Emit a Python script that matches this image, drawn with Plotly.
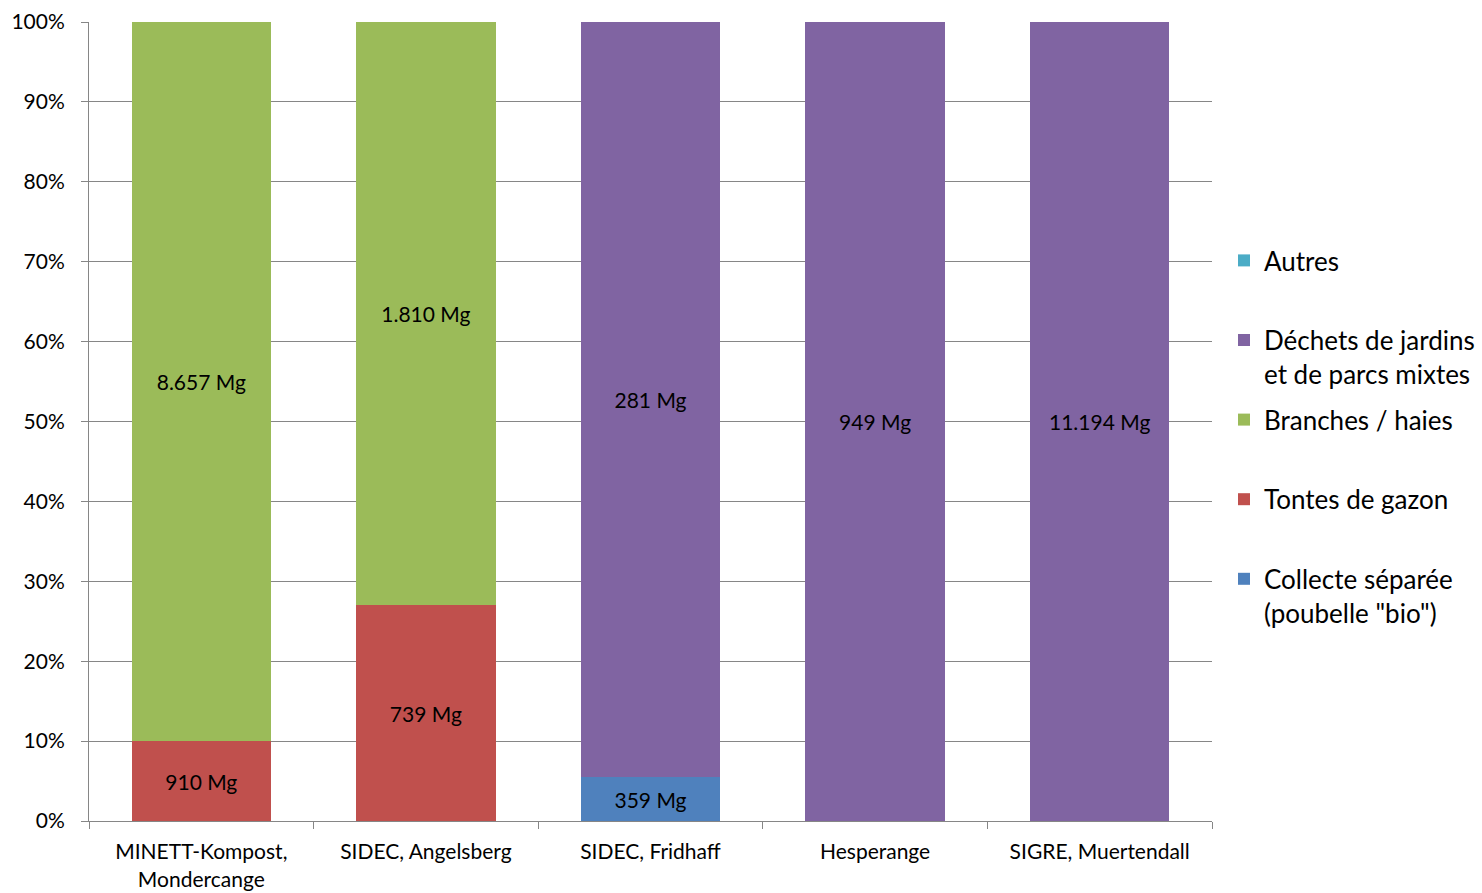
import plotly.graph_objects as go

categories = ["MINETT-Kompost,<br>Mondercange", "SIDEC, Angelsberg", "SIDEC, Fridhaff",
              "Hesperange", "SIGRE, Muertendall"]

# shares of each stream in %
collecte_pct = [0, 0, 5.5, 0, 0]
tontes_pct = [10, 27, 0, 0, 0]
branches_pct = [90, 73, 0, 0, 0]
dechets_pct = [0, 0, 94.5, 100, 100]
autres_pct = [0, 0, 0, 0, 0]

# mass labels shown in the bars
collecte_lbl = ["", "", "359 Mg", "", ""]
tontes_lbl = ["910 Mg", "739 Mg", "", "", ""]
branches_lbl = ["8.657 Mg", "1.810 Mg", "", "", ""]
dechets_lbl = ["", "", "281 Mg", "949 Mg", "11.194 Mg"]
autres_lbl = ["", "", "", "", ""]

series = [
    ("Collecte séparée<br>(poubelle \"bio\")", collecte_pct, collecte_lbl, "#4F81BD", 5),
    ("Tontes de gazon<br> ", tontes_pct, tontes_lbl, "#C0504D", 4),
    ("Branches / haies<br> ", branches_pct, branches_lbl, "#9BBB59", 3),
    ("Déchets de jardins<br>et de parcs mixtes", dechets_pct, dechets_lbl, "#8064A2", 2),
    ("Autres<br> ", autres_pct, autres_lbl, "#4BACC6", 1),
]

FONT = "Lato"
fig = go.Figure()
for i, (name, vals, lbl, col, rank) in enumerate(series):
    fig.add_trace(go.Bar(
        x=categories, y=vals, name=name, text=lbl,
        marker=dict(color=col, line=dict(width=0)),
        textposition="inside", insidetextanchor="middle", textangle=0,
        textfont=dict(family=FONT, size=21, color="black"),
        width=0.62, legendgroup=f"g{i}", legendrank=rank,
    ))

fig.update_layout(
    barmode="stack",
    width=1482, height=893,
    margin=dict(l=89, r=270, t=22, b=72),
    paper_bgcolor="white", plot_bgcolor="white",
    font=dict(family=FONT, size=21, color="black"),
    legend=dict(
        traceorder="grouped", tracegroupgap=9,
        valign="top",
        xref="container", yref="container",
        x=1224 / 1482, xanchor="left",
        y=1 - 237 / 893, yanchor="top",
        font=dict(family=FONT, size=26, color="black"),
        itemwidth=30,
    ),
    xaxis=dict(
        tickson="boundaries", ticks="outside", ticklen=7, tickcolor="#868686",
        showline=True, linecolor="#868686", linewidth=1,
        showgrid=False, tickfont=dict(size=21), ticklabelstandoff=12,
        automargin=False,
    ),
    yaxis=dict(
        range=[0, 100], dtick=10, ticksuffix="%",
        ticks="outside", ticklen=7, tickcolor="#868686",
        showline=True, linecolor="#868686", linewidth=1,
        showgrid=True, gridcolor="#868686", gridwidth=1,
        zeroline=False, tickfont=dict(size=21), ticklabelstandoff=12,
        automargin=False,
    ),
)

fig.write_html("out.html", config={"displayModeBar": False},
               post_script="document.body.style.margin='0';document.body.style.padding='0';")
